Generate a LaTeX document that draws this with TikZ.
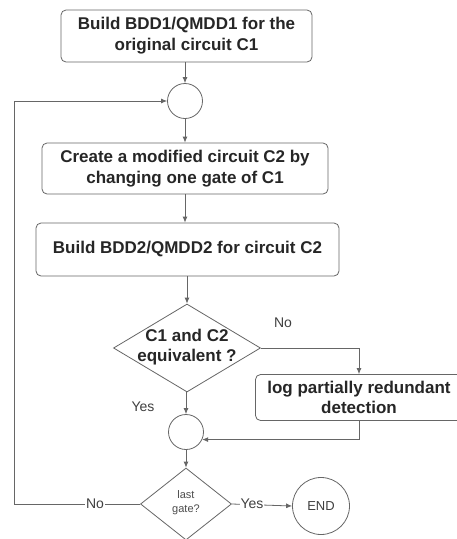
\documentclass[tikz,border=0pt]{standalone}
\usepackage{fontspec}
\setmainfont{Liberation Sans}
\usetikzlibrary{arrows.meta,shapes.geometric}
\begin{document}
\begin{tikzpicture}[x=1pt,y=-1pt,
  line/.style={draw=black!60, line width=0.8pt},
  arr/.style={line, -{Latex[length=6pt,width=5pt]}},
  procbox/.style={draw=black!60, line width=0.8pt, rounded corners=5pt, inner sep=0pt, align=center,
     font=\fontsize{17}{21}\selectfont\bfseries, text=black!85},
  dmd/.style={diamond, draw=black!60, line width=0.8pt, inner sep=0pt},
  jn/.style={circle, draw=black!60, line width=0.8pt, inner sep=0pt, minimum size=35pt},
  lbl/.style={font=\fontsize{14}{16}\selectfont, text=black!75, inner sep=1pt},
  dtext/.style={align=center, font=\fontsize{17}{20}\selectfont\bfseries, text=black!85},
]
\useasboundingbox (0,0) rectangle (456,539);
\fill[white] (0,0) rectangle (456,539);

\node[procbox, minimum width=251pt, minimum height=52pt] (b1) at (186.5,36) {Build BDD1/QMDD1 for the\\original circuit C1};
\node[jn] (c1) at (185,101) {};
\node[procbox, minimum width=286pt, minimum height=51pt] (b2) at (185,168.5) {Create a modified circuit C2 by\\changing one gate of C1};
\node[procbox, minimum width=303pt, minimum height=53pt] (b3) at (187.5,249.5) {Build BDD2/QMDD2 for circuit C2};
\node[dmd, minimum width=147pt, minimum height=88pt] (d1) at (187,348) {};
\node[dtext] (d1t) at (187,347) {C1 and C2\\equivalent ?};
\node[procbox, minimum width=207pt, minimum height=46pt] (b4) at (359,397.5) {};
\node[dtext] (b4t) at (359,397.5) {log partially redundant\\detection};
\node[jn] (c2) at (186,432) {};
\node[dmd, minimum width=91pt, minimum height=72pt] (d2) at (186,504) {};
\node[align=center, font=\fontsize{11}{14}\selectfont, text=black!70] (d2t) at (186,503) {last\\gate?};
\node[circle, draw=black!60, line width=0.8pt, inner sep=0pt, minimum size=57pt,
      font=\fontsize{13}{15}\selectfont, text=black!75] (end) at (321,506) {END};

\coordinate (lb) at (14,504);
\coordinate (lt) at (14,101);

\draw[arr] (c1 |- b1.south) -- (c1.north);
\draw[arr] (c1.south) -- (c1 |- b2.north);
\draw[arr] (c1 |- b2.south) -- (c1 |- b3.north);
\draw[arr] (d1 |- b3.south) -- (d1.north);
\draw[arr] (d1.east) -| (b4.north);
\draw[arr] (c2 |- d1.south) -- (c2.north);
\draw[arr] (b4.south) |- (c2.-25);
\draw[arr] (c2.south) -- (d2.north);
\draw[arr] (d2.east) -- (end.west);
\draw[arr] (d2.west) -- (lb) -- (lt) -- (c1.west);

\node[lbl, fill=white] (yes2) at (252,504) {Yes};
\node[lbl, fill=white] (no2) at (95,504) {No};
\node[lbl] (no1) at (283,323) {No};
\node[lbl] (yes1) at (143,407) {Yes};
\end{tikzpicture}
\end{document}
